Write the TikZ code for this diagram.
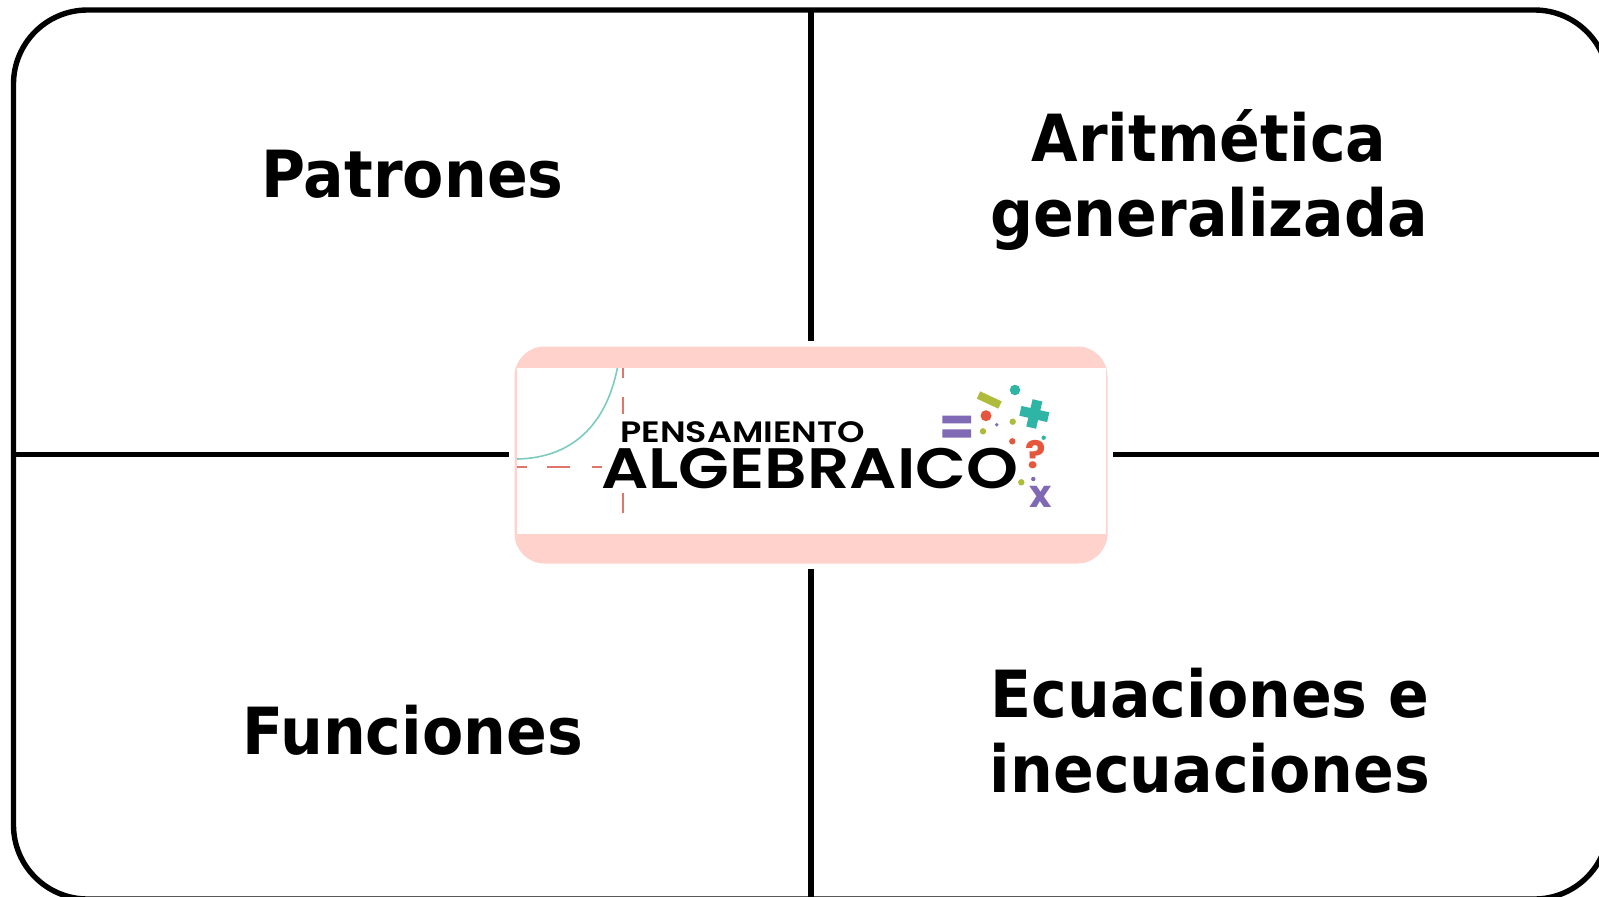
\documentclass[tikz,border=0pt]{standalone}
\usepackage{fontspec}
\newfontfamily\mainf[FakeStretch=0.925]{DejaVu Sans Bold}
\newfontfamily\logof{Poppins SemiBold}
\newfontfamily\logob{Poppins}[BoldFont=* Bold]
\definecolor{pinkband}{HTML}{FFD2CC}
\definecolor{tealc}{HTML}{2FB5A6}
\definecolor{curvec}{HTML}{7CCBBF}
\definecolor{redd}{HTML}{E0766B}
\definecolor{purp}{HTML}{8069B5}
\definecolor{oliv}{HTML}{AEBB3B}
\definecolor{oran}{HTML}{E4573D}
\tikzset{
  x=1pt,y=-1pt,
  frameline/.style={draw=black,line width=5.4pt,rounded corners=74pt},
  divider/.style={draw=black,line width=5.4pt},
  topic/.style={font=\mainf\fontsize{65}{75}\selectfont,anchor=base,inner sep=0pt,text=black},
  dashline/.style={draw=redd,line width=1.8pt},
  dot/.style={circle,inner sep=0pt,minimum size=#1},
}
\begin{document}
\begin{tikzpicture}
\useasboundingbox (0,0) rectangle (1599,897);
% frame
\path[frameline] (13.5,10) rectangle (1608.5,899);
\coordinate (ft) at (811,10);
\coordinate (fb) at (811,899);
\coordinate (fl) at (13.5,454.5);
\coordinate (fr) at (1608.5,454.5);
% centre card
\node[fill=pinkband,rounded corners=30pt,minimum width=593pt,minimum height=217pt,inner sep=0pt] (card) at (811,455) {};
\node[fill=white,minimum width=589pt,minimum height=166pt,inner sep=0pt] (logo) at (811.5,451) {};
\coordinate (ct) at (811,341);
\coordinate (cb) at (811,569);
\coordinate (cl) at (508.5,454.5);
\coordinate (cr) at (1113,454.5);
\draw[divider] (ft) -- (ct);
\draw[divider] (cb) -- (fb);
\draw[divider] (fl) -- (cl);
\draw[divider] (cr) -- (fr);
% logo art
\draw[curvec,line width=1.6pt] (517,459) .. controls (572,458) and (606,425) .. (617.4,368);
\draw[dashline] (517,467) -- (527,467) (547,467) -- (570,467) (592,467) -- (602,467);
\draw[dashline] (623,368) -- (623,378) (623,397) -- (623,414) (623,493) -- (623,513);
\node[font=\logof\fontsize{29.5}{29.5}\selectfont,anchor=base west,inner sep=0pt] (pens) at (620,442.8) {\scalebox{1.185}[1]{PENSAMIENTO}};
\node[font=\logof\fontsize{57}{57}\selectfont,anchor=base west,inner sep=0pt] (alg) at (601,488) {\scalebox{1.16}[1]{ALGEBRAICO}};
\fill[purp] (942.3,415.7) rectangle (971,423.3) (942.3,429.3) rectangle (971,437.7);
\draw[oliv,line width=8pt] (978.5,395) -- (1000,405);
\draw[tealc,line width=10pt,rotate around={-13:(1034.3,414)}] (1020,414) -- (1048.6,414) (1034.3,400) -- (1034.3,428);
\node[dot=10.5pt,fill=tealc] (d1) at (1015,390) {};
\node[dot=11pt,fill=oran] (d2) at (986,415.7) {};
\node[dot=3.8pt,fill=purp] (d3) at (996.7,424.7) {};
\node[dot=6.4pt,fill=oliv] (d4) at (1012.7,421.7) {};
\node[dot=6.4pt,fill=oliv] (d5) at (983,431.3) {};
\node[dot=6.4pt,fill=oran] (d6) at (1012.3,441.3) {};
\node[dot=4.4pt,fill=tealc] (d7) at (1043.7,437.7) {};
\node[dot=6.4pt,fill=oliv] (d8) at (1021.3,482.3) {};
\node[dot=4.4pt,fill=purp] (d9) at (1033.3,479) {};
\node[font=\logob\bfseries\fontsize{38}{38}\selectfont,text=oran,anchor=base,inner sep=0pt] (qm) at (1036,468.5) {?};
\node[font=\logob\bfseries\fontsize{38}{38}\selectfont,text=purp,anchor=base,inner sep=0pt] (xv) at (1041,507) {x};
% topics
\node[topic] (t1) at (412.5,197) {Patrones};
\node[topic] (t2a) at (1209,161) {Aritmética};
\node[topic] (t2b) at (1209,236) {generalizada};
\node[topic] (t3) at (412.5,754) {Funciones};
\node[topic] (t4a) at (1210,717) {Ecuaciones e};
\node[topic] (t4b) at (1210,792) {inecuaciones};
\end{tikzpicture}
\end{document}
